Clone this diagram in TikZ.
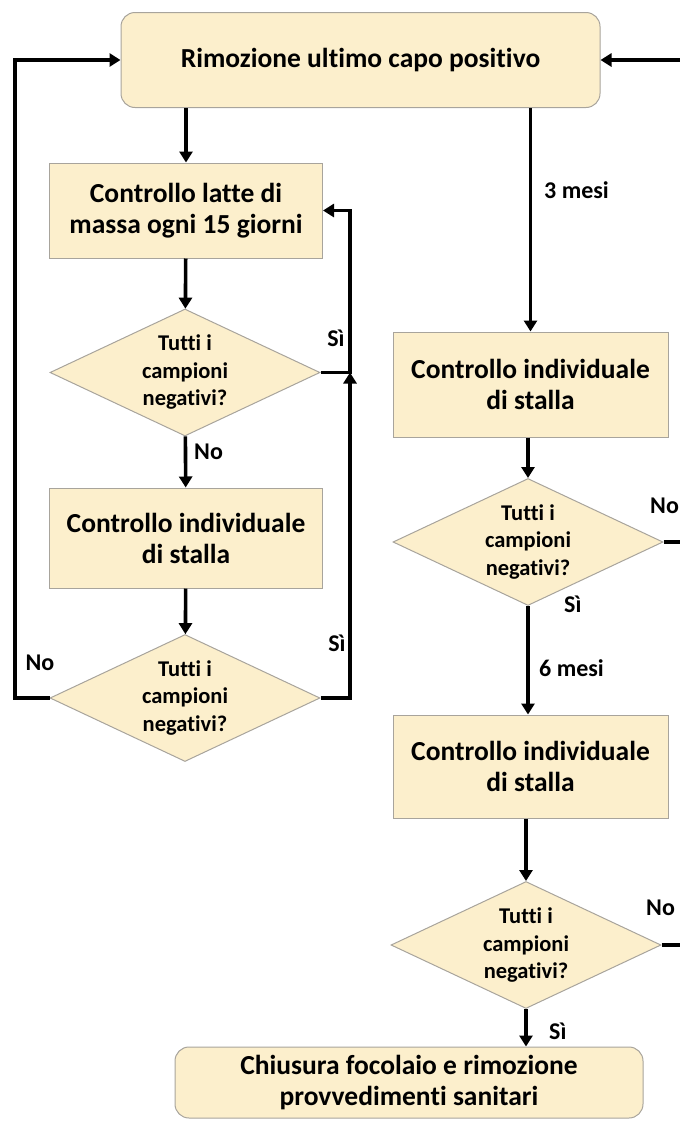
\documentclass[tikz,border=0pt]{standalone}
\usepackage{fontspec}
\setmainfont[Ligatures=NoCommon]{Carlito}
\usetikzlibrary{shapes.geometric,arrows.meta}
\definecolor{boxfill}{HTML}{FCEFCC}
\definecolor{boxline}{HTML}{A8A49C}
\begin{document}
\begin{tikzpicture}[x=1pt,y=-1pt,font=\bfseries,
    box/.style={draw=boxline,fill=boxfill,line width=1pt,align=center,inner sep=0pt,
        font=\bfseries\fontsize{27.5}{31}\selectfont},
    roundbox/.style={box,rounded corners=14pt},
    choice/.style={diamond,draw=boxline,fill=boxfill,line width=1pt,align=center,inner sep=0pt,
        aspect=2.14,minimum width=270pt,minimum height=127pt,
        font=\bfseries\fontsize{22.5}{27.5}\selectfont},
    lbl/.style={font=\bfseries\fontsize{24}{26}\selectfont,inner sep=0pt},
    arr/.style={line width=3.6pt,-{Triangle[width=13pt,length=11pt]}},
    link/.style={line width=3.6pt}]
    \useasboundingbox (0,0) rectangle (680,1122);
    \clip (0,0) rectangle (680,1122);

    \coordinate (lloop) at (15,0);
    \coordinate (rloop) at (350,0);
    \coordinate (redge) at (686,0);

    \node[roundbox,minimum width=479pt,minimum height=95pt] (rimoz) at (360.5,60) {Rimozione ultimo capo positivo};

    \node[box,minimum width=273pt,minimum height=95pt] (latte) at (186,210.5) {Controllo latte di\\massa ogni 15 giorni};
    \node[choice] (dec1) at (185,372.5) {Tutti i\\campioni\\negativi?};
    \node[box,minimum width=273pt,minimum height=100pt] (indiv1) at (186,538) {Controllo individuale\\di stalla};
    \node[choice] (dec2) at (185,698) {Tutti i\\campioni\\negativi?};

    \node[box,minimum width=275pt,minimum height=105pt] (indiv2) at (530.5,384.5) {Controllo individuale\\di stalla};
    \node[choice] (dec3) at (528,542) {Tutti i\\campioni\\negativi?};
    \node[box,minimum width=275pt,minimum height=103pt] (indiv3) at (530.5,766.5) {Controllo individuale\\di stalla};
    \node[choice] (dec4) at (526,945) {Tutti i\\campioni\\negativi?};

    \node[roundbox,minimum width=468pt,minimum height=71pt] (chiusura) at (409,1082.5) {Chiusura focolaio e rimozione\\provvedimenti sanitari};

    \draw[arr] (latte.north |- rimoz.south) -- (latte.north);
    \draw[arr] (latte) -- (dec1);
    \draw[arr] (dec1.east) -- (dec1.east -| rloop) |- (latte.east);
    \draw[arr] (dec1) -- (indiv1);
    \draw[arr] (indiv1) -- (dec2);
    \draw[arr] (dec2.east) -| (dec1.east -| rloop);
    \draw[arr] (dec2.west) -- (dec2.west -| lloop) |- (rimoz.west);

    \draw[arr] (indiv2.north |- rimoz.south) -- (indiv2.north);
    \draw[arr] (indiv2.south -| dec3.north) -- (dec3.north);
    \draw[arr] (dec3.south) -- (dec3.south |- indiv3.north);
    \draw[arr] (indiv3.south -| dec4.north) -- (dec4.north);
    \draw[arr] (dec4.south) -- (dec4.south |- chiusura.north);
    \draw[arr] (dec3.east) -- (dec3.east -| redge) |- (rimoz.east);
    \draw[link] (dec4.east) -- (dec4.east -| redge);

    \node[lbl] (si1) at (336,338) {Sì};
    \node[lbl,anchor=west] (no1) at (194,452) {No};
    \node[lbl] (si2) at (337,643) {Sì};
    \node[lbl] (no2) at (40,663) {No};
    \node[lbl,anchor=west] (mesi3) at (544,190) {3 mesi};
    \node[lbl,anchor=west] (no3) at (650,506) {No};
    \node[lbl,anchor=west] (si3) at (564,604) {Sì};
    \node[lbl,anchor=west] (mesi6) at (539,668) {6 mesi};
    \node[lbl,anchor=west] (no4) at (646,908) {No};
    \node[lbl,anchor=west] (si4) at (549,1031) {Sì};
\end{tikzpicture}
\end{document}
